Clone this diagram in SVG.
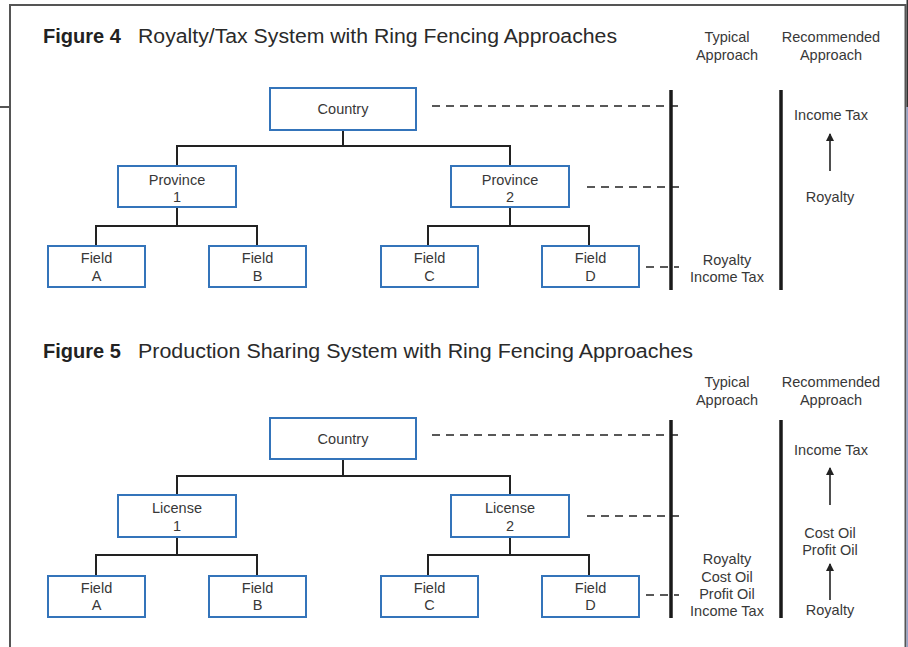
<svg xmlns="http://www.w3.org/2000/svg" width="908" height="647" viewBox="0 0 908 647">
  <defs>
    <style>
      .frame { fill: none; stroke: #555; stroke-width: 2; }
      .box { fill: #fff; stroke: #3474ba; stroke-width: 2; }
      .lbl { font-family: "Liberation Sans", Arial, sans-serif; font-size: 14.5px; fill: #383838; text-anchor: middle; }
      .title { font-family: "Liberation Sans", Arial, sans-serif; font-size: 20px; fill: #2a2a2a; }
      .fig { font-weight: bold; fill: #222; }
      .link { fill: none; stroke: #222; stroke-width: 2; }
      .dash { fill: none; stroke: #222; stroke-width: 1.7; stroke-dasharray: 8 6; }
      .bar { stroke: #1a1a1a; stroke-width: 3.5; }
      .arrow { stroke: #222; stroke-width: 1.6; marker-end: url(#head); }
    </style>
    <marker id="head" viewBox="0 0 8 10" refX="7" refY="5" markerWidth="8" markerHeight="10" markerUnits="userSpaceOnUse" orient="auto">
      <path d="M0,1 L8,5 L0,9 Z" fill="#222"/>
    </marker>
  </defs>

  <rect width="908" height="647" fill="#fff"/>

  <!-- page frame -->
  <g id="frame">
    <path class="frame" d="M10,647 V5 H905.5 V647"/>
    <line x1="0" y1="107" x2="10" y2="107" stroke="#555" stroke-width="2"/>
    <rect x="906.5" y="0" width="1.5" height="107" fill="#333"/>
    <rect x="906.5" y="107" width="1.5" height="540" fill="#9aa3c8"/>
  </g>

  <!-- ===== Figure 4 ===== -->
  <g id="fig4-title">
    <text class="title fig" x="43" y="43">Figure 4</text>
    <text class="title" x="138" y="43" textLength="479" lengthAdjust="spacingAndGlyphs">Royalty/Tax System with Ring Fencing Approaches</text>
  </g>
  <g id="fig4-headers">
    <text class="lbl" x="727" y="42">Typical</text>
    <text class="lbl" x="727" y="60">Approach</text>
    <text class="lbl" x="831" y="42">Recommended</text>
    <text class="lbl" x="831" y="60">Approach</text>
  </g>

  <g id="fig4-connectors">
    <path class="link" d="M343,130 V146 M177,166 V146 H510 V166"/>
    <path class="link" d="M177,207 V226 M96,246 V226 H257 V246"/>
    <path class="link" d="M510,207 V226 M428,246 V226 H589 V246"/>
    <line class="dash" x1="432" y1="106" x2="679" y2="106"/>
    <line class="dash" x1="587" y1="187" x2="679" y2="187"/>
    <line class="dash" x1="646" y1="267" x2="679" y2="267"/>
    <line class="bar" x1="671" y1="90" x2="671" y2="290"/>
    <line class="bar" x1="781" y1="90" x2="781" y2="290"/>
    <line class="arrow" x1="830" y1="171" x2="830" y2="134"/>
  </g>

  <g id="fig4-country">
    <rect class="box" x="270" y="88" width="146" height="42"/>
    <text class="lbl" x="343" y="114">Country</text>
  </g>
  <g id="fig4-province1">
    <rect class="box" x="118" y="166" width="118" height="41"/>
    <text class="lbl" x="177" y="185">Province</text>
    <text class="lbl" x="177" y="202">1</text>
  </g>
  <g id="fig4-province2">
    <rect class="box" x="451" y="166" width="118" height="41"/>
    <text class="lbl" x="510" y="185">Province</text>
    <text class="lbl" x="510" y="202">2</text>
  </g>
  <g id="fig4-fieldA">
    <rect class="box" x="48" y="246" width="97" height="41"/>
    <text class="lbl" x="96.5" y="263">Field</text>
    <text class="lbl" x="96.5" y="281">A</text>
  </g>
  <g id="fig4-fieldB">
    <rect class="box" x="209" y="246" width="97" height="41"/>
    <text class="lbl" x="257.5" y="263">Field</text>
    <text class="lbl" x="257.5" y="281">B</text>
  </g>
  <g id="fig4-fieldC">
    <rect class="box" x="381" y="246" width="97" height="41"/>
    <text class="lbl" x="429.5" y="263">Field</text>
    <text class="lbl" x="429.5" y="281">C</text>
  </g>
  <g id="fig4-fieldD">
    <rect class="box" x="542" y="246" width="97" height="41"/>
    <text class="lbl" x="590.5" y="263">Field</text>
    <text class="lbl" x="590.5" y="281">D</text>
  </g>

  <g id="fig4-typical">
    <text class="lbl" x="727" y="265">Royalty</text>
    <text class="lbl" x="727" y="282">Income Tax</text>
  </g>
  <g id="fig4-recommended">
    <text class="lbl" x="831" y="120">Income Tax</text>
    <text class="lbl" x="830" y="202">Royalty</text>
  </g>

  <!-- ===== Figure 5 ===== -->
  <g id="fig5-title">
    <text class="title fig" x="43" y="358">Figure 5</text>
    <text class="title" x="138" y="358" textLength="555" lengthAdjust="spacingAndGlyphs">Production Sharing System with Ring Fencing Approaches</text>
  </g>
  <g id="fig5-headers">
    <text class="lbl" x="727" y="387">Typical</text>
    <text class="lbl" x="727" y="405">Approach</text>
    <text class="lbl" x="831" y="387">Recommended</text>
    <text class="lbl" x="831" y="405">Approach</text>
  </g>

  <g id="fig5-connectors">
    <path class="link" d="M343,459 V476 M177,495 V476 H510 V495"/>
    <path class="link" d="M177,537 V555 M96,576 V555 H257 V576"/>
    <path class="link" d="M510,537 V555 M428,576 V555 H589 V576"/>
    <line class="dash" x1="432" y1="435" x2="679" y2="435"/>
    <line class="dash" x1="587" y1="516" x2="679" y2="516"/>
    <line class="dash" x1="646" y1="595" x2="679" y2="595"/>
    <line class="bar" x1="671" y1="420" x2="671" y2="618"/>
    <line class="bar" x1="781" y1="420" x2="781" y2="618"/>
    <line class="arrow" x1="830" y1="505" x2="830" y2="468"/>
    <line class="arrow" x1="830" y1="600" x2="830" y2="564"/>
  </g>

  <g id="fig5-country">
    <rect class="box" x="270" y="418" width="146" height="41"/>
    <text class="lbl" x="343" y="444">Country</text>
  </g>
  <g id="fig5-license1">
    <rect class="box" x="118" y="495" width="118" height="42"/>
    <text class="lbl" x="177" y="513">License</text>
    <text class="lbl" x="177" y="531">1</text>
  </g>
  <g id="fig5-license2">
    <rect class="box" x="451" y="495" width="118" height="42"/>
    <text class="lbl" x="510" y="513">License</text>
    <text class="lbl" x="510" y="531">2</text>
  </g>
  <g id="fig5-fieldA">
    <rect class="box" x="48" y="576" width="97" height="41"/>
    <text class="lbl" x="96.5" y="593">Field</text>
    <text class="lbl" x="96.5" y="610">A</text>
  </g>
  <g id="fig5-fieldB">
    <rect class="box" x="209" y="576" width="97" height="41"/>
    <text class="lbl" x="257.5" y="593">Field</text>
    <text class="lbl" x="257.5" y="610">B</text>
  </g>
  <g id="fig5-fieldC">
    <rect class="box" x="381" y="576" width="97" height="41"/>
    <text class="lbl" x="429.5" y="593">Field</text>
    <text class="lbl" x="429.5" y="610">C</text>
  </g>
  <g id="fig5-fieldD">
    <rect class="box" x="542" y="576" width="97" height="41"/>
    <text class="lbl" x="590.5" y="593">Field</text>
    <text class="lbl" x="590.5" y="610">D</text>
  </g>

  <g id="fig5-typical">
    <text class="lbl" x="727" y="564">Royalty</text>
    <text class="lbl" x="727" y="582">Cost Oil</text>
    <text class="lbl" x="727" y="599">Profit Oil</text>
    <text class="lbl" x="727" y="616">Income Tax</text>
  </g>
  <g id="fig5-recommended">
    <text class="lbl" x="831" y="455">Income Tax</text>
    <text class="lbl" x="830" y="538">Cost Oil</text>
    <text class="lbl" x="830" y="555">Profit Oil</text>
    <text class="lbl" x="830" y="615">Royalty</text>
  </g>
</svg>
